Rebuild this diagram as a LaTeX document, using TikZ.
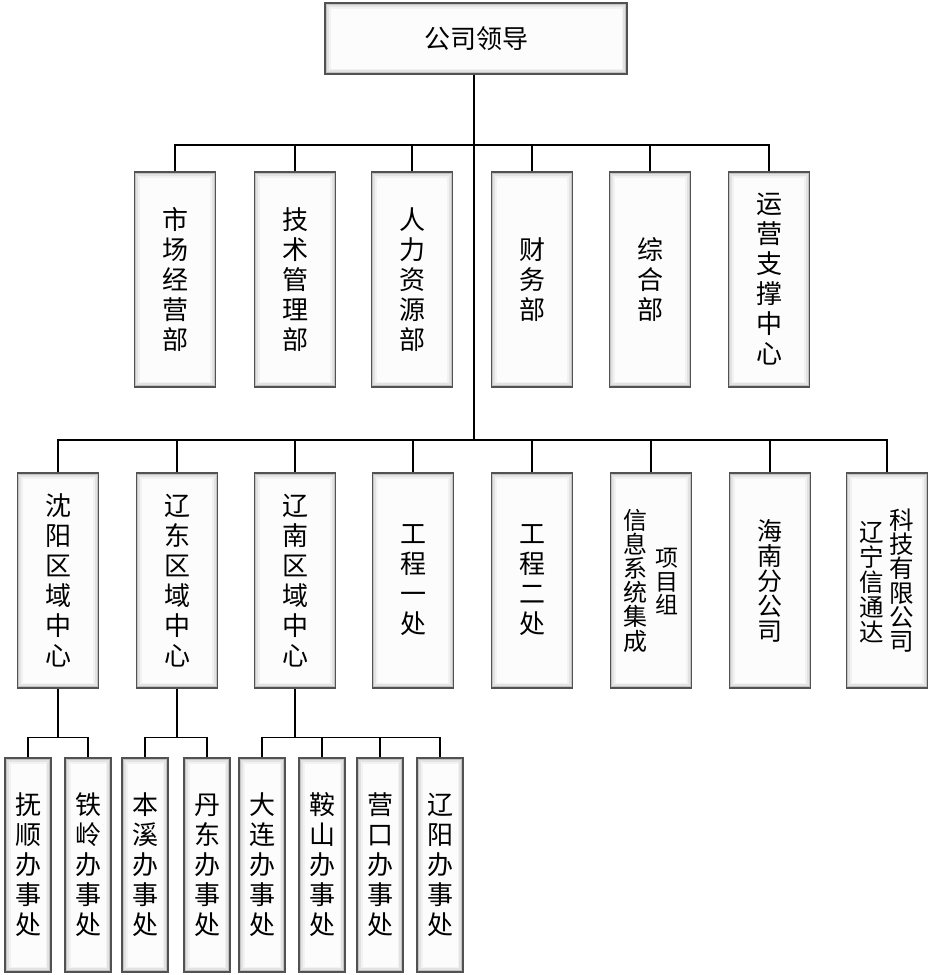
\documentclass[tikz,border=0pt]{standalone}
\usepackage{fontspec}
\setmainfont{Noto Sans CJK SC}
\begin{document}
\begin{tikzpicture}[x=1pt,y=-1pt]
\tikzset{
 bx/.style={draw=black!68, line width=1.2pt, inner sep=0pt, align=center,
   font=\fontsize{26}{30}\selectfont,
   path picture={
     \fill[black!24] (path picture bounding box.south west) rectangle (path picture bounding box.north east);
     \fill[black!11] ([shift={(1.8pt,1.8pt)}]path picture bounding box.south west) rectangle ([shift={(-1.8pt,-1.8pt)}]path picture bounding box.north east);
     \fill[black!5] ([shift={(3.6pt,3.6pt)}]path picture bounding box.south west) rectangle ([shift={(-3.6pt,-3.6pt)}]path picture bounding box.north east);
     \fill[black!1] ([shift={(5.5pt,5.5pt)}]path picture bounding box.south west) rectangle ([shift={(-5.5pt,-5.5pt)}]path picture bounding box.north east);
   }},
 topbox/.style={bx, minimum width=302pt, minimum height=71pt},
 dept/.style={bx, minimum width=81pt, minimum height=215pt},
 offbox/.style={bx, minimum width=46pt, minimum height=214pt},
 ln/.style={line width=1.7pt, black},
 lbl/.style={inner sep=0pt, align=center}
}
\useasboundingbox (0,0) rectangle (930,975);
% top
\node[topbox] (lead) at (476,38.5) {公司领导};
% row 1
\node[dept] (d1) at (175,279.5) {市\\场\\经\\营\\部};
\node[dept] (d2) at (295,279.5) {技\\术\\管\\理\\部};
\node[dept] (d3) at (412,279.5) {人\\力\\资\\源\\部};
\node[dept] (d4) at (532,279.5) {财\\务\\部};
\node[dept] (d5) at (650,279.5) {综\\合\\部};
\node[dept] (d6) at (769,279.5) {运\\营\\支\\撑\\中\\心};
% row 2
\node[dept] (r1) at (58,580.5) {沈\\阳\\区\\域\\中\\心};
\node[dept] (r2) at (177,580.5) {辽\\东\\区\\域\\中\\心};
\node[dept] (r3) at (295,580.5) {辽\\南\\区\\域\\中\\心};
\node[dept] (r4) at (413,580.5) {工\\程\\一\\处};
\node[dept] (r5) at (532,580.5) {工\\程\\二\\处};
\node[dept] (r6) at (651,580.5) {};
\node[dept, font=\fontsize{25}{25}\selectfont] (r7) at (770,580.5) {海\\南\\分\\公\\司};
\node[dept] (r8) at (887,580.5) {};
\node[lbl, font=\fontsize{24}{24.2}\selectfont] (r6a) at (635,580.5) {信\\息\\系\\统\\集\\成};
\node[lbl, font=\fontsize{23}{23.5}\selectfont] (r6b) at (667,582) {项\\目\\组};
\node[lbl, font=\fontsize{24.5}{25}\selectfont] (r8a) at (872,582.5) {辽\\宁\\信\\通\\达};
\node[lbl, font=\fontsize{24.5}{24.2}\selectfont] (r8b) at (902,580.5) {科\\技\\有\\限\\公\\司};
% row 3
\node[offbox] (o1) at (28,865) {抚\\顺\\办\\事\\处};
\node[offbox] (o2) at (88,865) {铁\\岭\\办\\事\\处};
\node[offbox] (o3) at (145,865) {本\\溪\\办\\事\\处};
\node[offbox] (o4) at (207,865) {丹\\东\\办\\事\\处};
\node[offbox] (o5) at (262,865) {大\\连\\办\\事\\处};
\node[offbox] (o6) at (322,865) {鞍\\山\\办\\事\\处};
\node[offbox] (o7) at (380,865) {营\\口\\办\\事\\处};
\node[offbox] (o8) at (440,865) {辽\\阳\\办\\事\\处};
% connectors
\coordinate (bus1) at (474,145);
\coordinate (bus2) at (474,440);
\draw[ln] (bus2 |- lead.south) -- (bus2);
\foreach \n in {d1,d2,d3,d4,d5,d6} { \draw[ln] (bus1) -| (\n.north); }
\foreach \n in {r1,r2,r3,r4,r5,r6,r7,r8} { \draw[ln] (bus2) -| (\n.north); }
\path (r1.south) ++(0,49) coordinate (s1);
\path (r2.south) ++(0,49) coordinate (s2);
\path (r3.south) ++(0,49) coordinate (s3);
\draw[ln] (r1.south) -- (s1);
\draw[ln] (r2.south) -- (s2);
\draw[ln] (r3.south) -- (s3);
\draw[ln] (s1) -| (o1.north);
\draw[ln] (s1) -| (o2.north);
\draw[ln] (s2) -| (o3.north);
\draw[ln] (s2) -| (o4.north);
\draw[ln] (s3) -| (o5.north);
\draw[ln] (s3) -| (o6.north);
\draw[ln] (s3) -| (o7.north);
\draw[ln] (s3) -| (o8.north);
\end{tikzpicture}
\end{document}
